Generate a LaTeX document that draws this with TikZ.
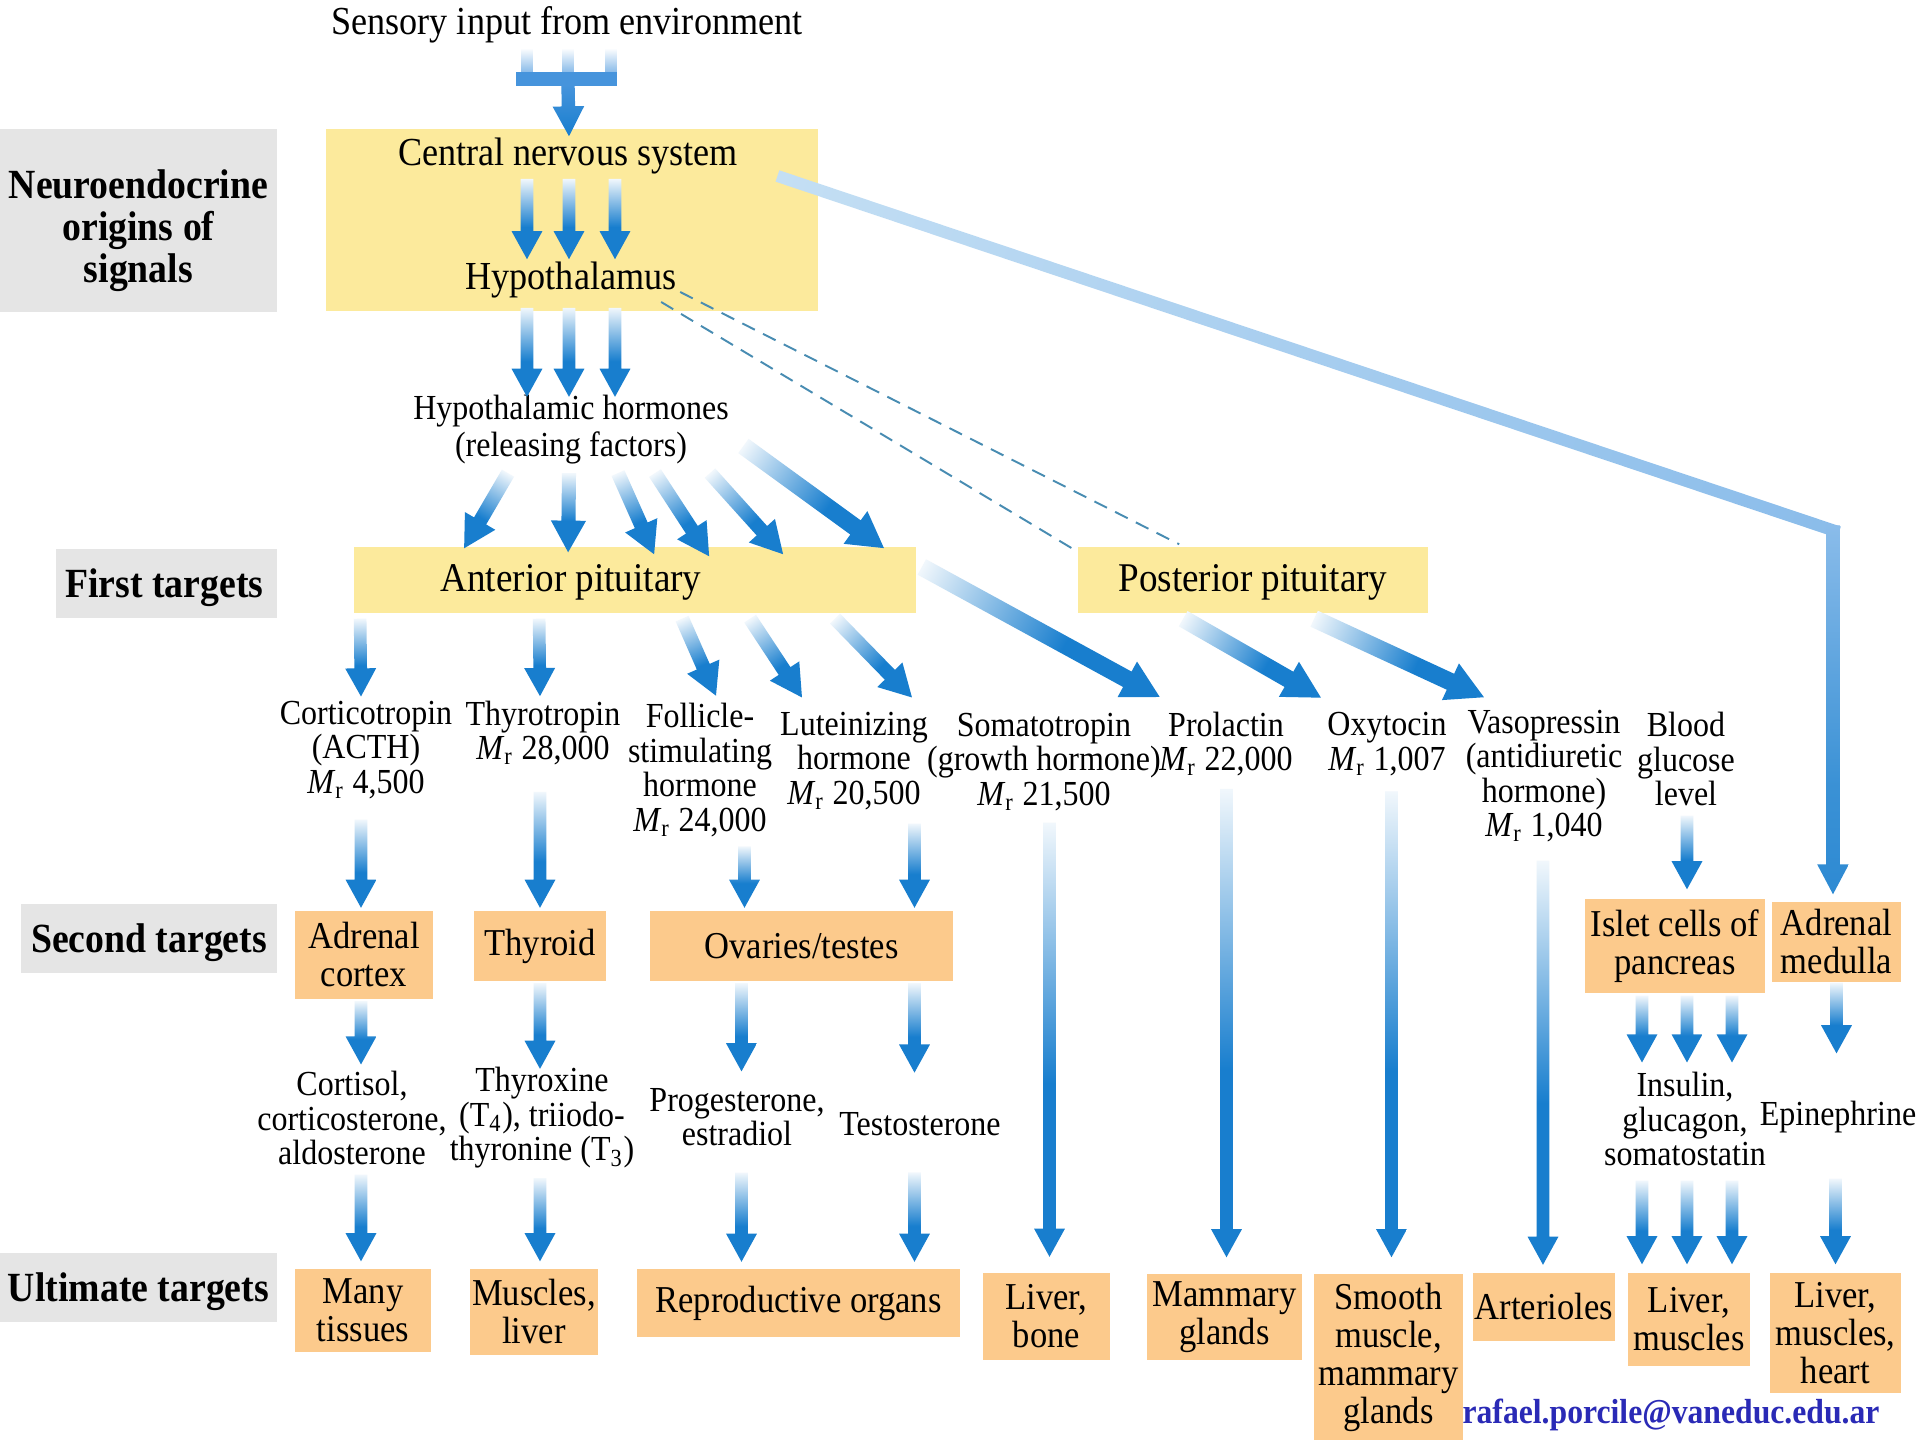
\documentclass[tikz,border=0pt]{standalone}
\usepackage{fontspec}
\setmainfont{Liberation Serif}[FakeStretch=0.91]
\usetikzlibrary{calc}

\definecolor{hormblue}{RGB}{24,126,206}
\definecolor{forkblue}{RGB}{70,148,220}
\definecolor{bandlight}{RGB}{196,223,244}
\definecolor{bandmid}{RGB}{138,188,234}
\definecolor{cnsyellow}{RGB}{252,234,156}
\definecolor{targorange}{RGB}{252,202,140}
\definecolor{rowgray}{RGB}{229,229,229}
\definecolor{dashblue}{RGB}{72,140,178}
\definecolor{mailblue}{RGB}{42,42,182}
\colorlet{hormpale}{hormblue!6}
\colorlet{hormdeep}{hormblue!85}

% fades along an arrow, tail on the left, tip on the right
\pgfdeclarehorizontalshading{hormfade}{100bp}{color(0bp)=(hormpale); color(25bp)=(hormpale); color(55bp)=(hormblue); color(100bp)=(hormblue)}
\pgfdeclarehorizontalshading{forkfade}{100bp}{color(0bp)=(forkblue); color(25bp)=(forkblue); color(75bp)=(hormblue); color(100bp)=(hormblue)}
\pgfdeclarehorizontalshading{bandfade}{100bp}{color(0bp)=(bandlight); color(25bp)=(bandlight); color(75bp)=(bandmid); color(100bp)=(bandmid)}
\pgfdeclarehorizontalshading{medfade}{100bp}{color(0bp)=(bandmid); color(25bp)=(bandmid); color(60bp)=(hormdeep); color(100bp)=(hormblue)}

\newcommand{\Mrel}{\textit{M}\textsubscript{r}}

\pgfkeys{/horm/.cd,
  shaft/.store in=\hshaft, head/.store in=\hhead, tip/.store in=\htip, fade/.store in=\hfade,
  shaft=3.6pt, head=8.8pt, tip=8pt, fade=hormfade,
  diag/.style={shaft=4pt, head=10pt, tip=9pt},
  long/.style={shaft=5pt, head=11.5pt, tip=10.5pt}}

% shaded block arrow from #2 to #3
\newcommand{\hormarrow}[3][]{%
  \begingroup
  \pgfkeys{/horm/.cd,#1}%
  \path (#2) coordinate (ha) (#3) coordinate (hb);
  \path let \p1=(ha), \p2=(hb) in \pgfextra{%
    \pgfmathsetmacro\hang{atan2(\y2-\y1,\x2-\x1)}%
    \pgfmathsetmacro\hlen{veclen(\x2-\x1,\y2-\y1)}%
    \xdef\hangle{\hang}\xdef\hlength{\hlen}};
  \begin{scope}[transform canvas={shift={(ha)},rotate=\hangle}]
    \shade[shading=\hfade] (0pt,{-0.5*\hshaft}) -- ({\hlength pt-\htip},{-0.5*\hshaft})
      -- ({\hlength pt-\htip},{-0.5*\hhead}) -- (\hlength pt,0pt)
      -- ({\hlength pt-\htip},{0.5*\hhead}) -- ({\hlength pt-\htip},{0.5*\hshaft})
      -- (0pt,{0.5*\hshaft}) -- cycle;
  \end{scope}
  \endgroup}

\tikzset{
  lbl/.style={inner sep=0pt, align=center, font=\fontsize{10}{9.8}\selectfont},
  ylbl/.style={inner sep=0pt, align=center, font=\fontsize{11.3}{11.5}\selectfont},
  ybox/.style={fill=cnsyellow, inner sep=0pt},
  obox/.style={fill=targorange, inner sep=0pt, align=center, font=\fontsize{10.8}{10.8}\selectfont},
  gbox/.style={fill=rowgray, inner sep=0pt},
  glbl/.style={inner sep=0pt, align=center, font=\fontsize{11.8}{11.9}\selectfont\bfseries},
  nerveline/.style={dashblue, line width=0.55pt, dash pattern=on 4pt off 2.6pt}
}

\begin{document}
\begin{tikzpicture}[x=0.01cm, y=-0.01cm]
\fill[white] (0,0) rectangle (1920,1440);
\useasboundingbox (0,0) rectangle (1920,1440);

% row labels
\node[gbox, minimum width=2.77cm, minimum height=1.83cm] (neuro) at (138.5,220.5) {};
\node[gbox, minimum width=2.21cm, minimum height=0.69cm] (first) at (166.5,583.5) {};
\node[gbox, minimum width=2.55cm, minimum height=0.69cm] (second) at (149,938.5) {};
\node[gbox, minimum width=2.77cm, minimum height=0.69cm] (ultimate) at (138.5,1287.5) {};
\node[glbl] (neurolbl) at ($(neuro)+(0,10)$) {Neuroendocrine\\origins of\\signals};
\node[glbl] (firstlbl) at ($(first)+(-2,4)$) {First targets};
\node[glbl] (secondlbl) at ($(second)+(0,4)$) {Second targets};
\node[glbl] (ultimatelbl) at ($(ultimate)+(0,4)$) {Ultimate targets};

% yellow boxes
\node[ybox, minimum width=4.92cm, minimum height=1.82cm] (cns) at (572,220) {};
\node[ybox, minimum width=5.62cm, minimum height=0.66cm] (antpit) at (635,580) {};
\node[ybox, minimum width=3.50cm, minimum height=0.66cm] (postpit) at (1253,580) {};

\node[ylbl] (sensory) at (567,25) {Sensory input from environment};
\node[ylbl] (cnslbl) at (568,156) {Central nervous system};
\node[ylbl] (hypo) at (571,280) {Hypothalamus};
\node[lbl, font=\fontsize{10}{10.5}\selectfont] (hormrel) at (571,430) {Hypothalamic hormones\\(releasing factors)};
\node[ylbl, font=\fontsize{11.6}{11.6}\selectfont] (antpitlbl) at (571,582) {Anterior pituitary};
\node[ylbl, font=\fontsize{11.6}{11.6}\selectfont] (postpitlbl) at (1253,582) {Posterior pituitary};

% hormones
\node[lbl] (cortico) at (366,750) {Corticotropin\\(ACTH)\\\Mrel{} 4,500};
\node[lbl] (thyro) at (543,733) {Thyrotropin\\\Mrel{} 28,000};
\node[lbl] (fsh) at (700,770) {Follicle-\\stimulating\\hormone\\\Mrel{} 24,000};
\node[lbl] (lh) at (854,761) {Luteinizing\\hormone\\\Mrel{} 20,500};
\node[lbl] (somato) at (1044,762) {Somatotropin\\(growth hormone)\\\Mrel{} 21,500};
\node[lbl] (prolac) at (1226,744) {Prolactin\\\Mrel{} 22,000};
\node[lbl] (oxy) at (1387,744) {Oxytocin\\\Mrel{} 1,007};
\node[lbl] (vaso) at (1544,776) {Vasopressin\\(antidiuretic\\hormone)\\\Mrel{} 1,040};
\node[lbl] (blood) at (1686,759) {Blood\\glucose\\level};

% second targets
\node[obox, minimum width=1.37cm, minimum height=0.87cm] (adrcortex) at (364,955) {Adrenal\\cortex};
\node[obox, minimum width=1.31cm, minimum height=0.69cm] (thyroid) at (540,946) {Thyroid};
\node[obox, minimum width=3.03cm, minimum height=0.69cm] (ovaries) at (801.5,946) {Ovaries/testes};
\node[obox, minimum width=1.80cm, minimum height=0.94cm] (islet) at (1675,946) {Islet cells of\\pancreas};
\node[obox, minimum width=1.29cm, minimum height=0.80cm] (adrmed) at (1836.5,942) {Adrenal\\medulla};

% products
\node[lbl] (cortisol) at (352,1118) {Cortisol,\\corticosterone,\\aldosterone};
\node[lbl] (thyrox) at (542,1118) {Thyroxine\\(T\textsubscript{4}), triiodo-\\thyronine (T\textsubscript{3})};
\node[lbl] (proges) at (737,1117) {Progesterone,\\estradiol};
\node[lbl] (testo) at (920,1124) {Testosterone};
\node[lbl] (insulin) at (1685,1119) {Insulin,\\glucagon,\\somatostatin};
\node[lbl] (epi) at (1838,1117) {Epinephrine};

% ultimate targets
\node[obox, minimum width=1.35cm, minimum height=0.83cm] (manytis) at (363,1310.5) {Many\\tissues};
\node[obox, minimum width=1.28cm, minimum height=0.86cm] (muscliver) at (534,1312) {Muscles,\\liver};
\node[obox, minimum width=3.23cm, minimum height=0.67cm] (reproorg) at (798.5,1303) {Reproductive organs};
\node[obox, minimum width=1.27cm, minimum height=0.86cm] (liverbone) at (1046.5,1316.5) {Liver,\\bone};
\node[obox, minimum width=1.55cm, minimum height=0.86cm] (mammary) at (1224.5,1317) {Mammary\\glands};
\node[obox, minimum width=1.49cm, minimum height=1.66cm] (smooth) at (1388.5,1357) {Smooth\\muscle,\\mammary\\glands};
\node[obox, minimum width=1.42cm, minimum height=0.67cm] (arterioles) at (1544,1307) {Arterioles};
\node[obox, minimum width=1.21cm, minimum height=0.93cm] (livermusc) at (1689,1319.5) {Liver,\\muscles};
\node[obox, minimum width=1.31cm, minimum height=1.20cm] (lmheart) at (1835.5,1333) {Liver,\\muscles,\\heart};

\node[inner sep=0pt, font=\fontsize{9.9}{10}\selectfont\bfseries, text=mailblue] (mail) at (1671,1415) {rafael.porcile@vaneduc.edu.ar};

% sensory input fork
\foreach \dx in {-40,1,44}
  \shade[top color=white, bottom color=forkblue] ($(sensory.south)+(\dx-5.5,4)$) rectangle ($(sensory.south)+(\dx+5.5,42)$);
\fill[forkblue] ($(sensory.south)+(-51,28)$) rectangle ($(sensory.south)+(50,42)$);
\hormarrow[fade=forkfade, shaft=3.8pt, head=9pt, tip=8.5pt]{$(sensory.south)+(1,41)$}{$(cns.north)+(-3,8)$}

% CNS -> hypothalamus -> releasing factors
\foreach \dx in {-41,1,47}
  {\hormarrow{$(cnslbl.south)+(\dx,4)$}{$(cnslbl.south |- hypo.north)+(\dx,-2)$}}
\foreach \dx in {-44,-2,44}
  {\hormarrow{$(hypo.south)+(\dx,9)$}{$(hypo.south |- hormrel.north)+(\dx,2)$}}

% releasing factors -> anterior pituitary
\foreach \ta/\tb/\tc in {-63/111/2, -2/215/6, 47/301/8, 84/356/10, 139/430/8}
  {\hormarrow[diag]{$(hormrel.south)+(\ta,8)$}{$(antpit.north west)+(\tb,\tc)$}}
\hormarrow[shaft=5pt, head=11.5pt, tip=10pt]{$(hormrel.east)+(14,16)$}{$(antpit.north west)+(531,2)$}

% hypothalamus - - posterior pituitary
\draw[nerveline] ($(hypo.east)+(3,12)$) -- ($(postpit.north west)+(102,-2)$);
\draw[nerveline] ($(hypo.east)+(-16,22)$) -- ($(postpit.north west)+(-2,4)$);

% anterior pituitary -> hormones
\hormarrow{$(antpit.south west)+(7,5)$}{$(cortico.north)+(-5,-4)$}
\hormarrow{$(antpit.south west)+(186,5)$}{$(thyro.north)+(-3,-4)$}
\hormarrow[diag]{$(antpit.south west)+(329,5)$}{$(fsh.north)+(16,-7)$}
\hormarrow[diag]{$(antpit.south west)+(397,5)$}{$(lh.north)+(-52,-14)$}
\hormarrow[diag]{$(antpit.south west)+(482,5)$}{$(lh.north)+(58,-14)$}
\hormarrow[long]{$(antpit.east)+(5,-13)$}{$(prolac.north)+(-66,-14)$}

% posterior pituitary -> hormones
\hormarrow[long]{$(postpit.south west)+(106,5)$}{$(oxy.north)+(-66,-14)$}
\hormarrow[long]{$(postpit.south west)+(237,5)$}{$(vaso.north)+(-60,-12)$}

% CNS -> adrenal medulla
\coordinate (medturn) at ($(adrmed.north)+(-3.5,-371)$);
\hormarrow[fade=bandfade, shaft=3.4pt, head=3.4pt, tip=0pt]{$(cnslbl.east)+(39,20)$}{$(medturn)+(6,2)$}
\hormarrow[fade=medfade, shaft=3.9pt, head=9pt, tip=8.5pt]{$(medturn)+(0,-5)$}{$(adrmed.north)+(-3.5,-7)$}

% hormones -> second targets
\hormarrow{$(adrcortex.north |- cortico.south)+(-3,20)$}{$(adrcortex.north)+(-3,-3)$}
\hormarrow{$(thyroid.north |- thyro.south)+(0,26)$}{$(thyroid.north)+(0,-3)$}
\hormarrow{$(ovaries.north |- fsh.south)+(-57,9)$}{$(ovaries.north)+(-57,-3)$}
\hormarrow{$(ovaries.north |- lh.south)+(113,13)$}{$(ovaries.north)+(113,-3)$}
\hormarrow{$(islet.north |- blood.south)+(12,9)$}{$(islet.north)+(12,-9)$}

% second targets -> products
\hormarrow{$(adrcortex.south)+(-3,2)$}{$(adrcortex.south |- cortisol.north)+(-3,-6)$}
\hormarrow{$(thyroid.south)+(0,2)$}{$(thyroid.south |- thyrox.north)+(0,2)$}
\hormarrow{$(ovaries.south)+(-60,2)$}{$(ovaries.south |- proges.north)+(-60,-16)$}
\hormarrow{$(ovaries.south)+(113,2)$}{$(ovaries.south |- testo.north)+(113,-39)$}
\foreach \dx in {-33,12,57}
  {\hormarrow{$(islet.south)+(\dx,2)$}{$(islet.south |- insulin.north)+(\dx,-9)$}}
\hormarrow{$(adrmed.south)+(0,0)$}{$(adrmed.south |- epi.north)+(0,-47)$}

% products -> ultimate targets
\hormarrow{$(manytis.north |- cortisol.south)+(-2,9)$}{$(manytis.north)+(-2,-7)$}
\hormarrow{$(muscliver.north |- thyrox.south)+(6,9)$}{$(muscliver.north)+(6,-7)$}
\hormarrow{$(reproorg.north |- proges.south)+(-57,26)$}{$(reproorg.north)+(-57,-7)$}
\hormarrow{$(reproorg.north |- testo.south)+(116,36)$}{$(reproorg.north)+(116,-7)$}
\hormarrow{$(liverbone.north |- somato.south)+(3,11)$}{$(liverbone.north)+(3,-16)$}
\hormarrow{$(mammary.north |- prolac.south)+(2,12)$}{$(mammary.north)+(2,-16)$}
\hormarrow{$(smooth.north |- oxy.south)+(3,15)$}{$(smooth.north)+(3,-16)$}
\hormarrow{$(arterioles.north |- vaso.south)+(-1,18)$}{$(arterioles.north)+(-1,-8)$}
\foreach \dx in {-47,-2,43}
  {\hormarrow{$(livermusc.north |- insulin.south)+(\dx,14)$}{$(livermusc.north)+(\dx,-8)$}}
\hormarrow{$(lmheart.north |- epi.south)+(0,45)$}{$(lmheart.north)+(0,-8)$}

\end{tikzpicture}
\end{document}
